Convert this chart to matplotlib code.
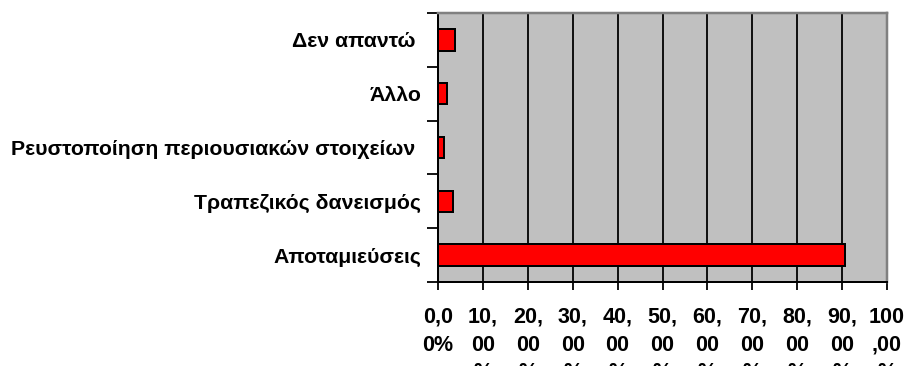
import matplotlib
matplotlib.use("Agg")
import matplotlib.pyplot as plt

# Sources of funding, share of responses (%)
categories = [
    "Αποταμιεύσεις",
    "Τραπεζικός δανεισμός",
    "Ρευστοποίηση περιουσιακών στοιχείων ",
    "Άλλο",
    "Δεν απαντώ ",
]
shares = [90.6, 3.4, 1.4, 1.9, 3.7]

x_ticks = [0, 10, 20, 30, 40, 50, 60, 70, 80, 90, 100]
x_tick_labels = [
    "0,0\n0%",
    "10,\n00\n%",
    "20,\n00\n%",
    "30,\n00\n%",
    "40,\n00\n%",
    "50,\n00\n%",
    "60,\n00\n%",
    "70,\n00\n%",
    "80,\n00\n%",
    "90,\n00\n%",
    "100\n,00\n%",
]

plt.rcParams["font.family"] = ["Liberation Sans", "DejaVu Sans"]
plt.rcParams["font.weight"] = "bold"

fig = plt.figure(figsize=(9.08, 3.66), dpi=100)
ax = fig.add_axes([438 / 908, 84 / 366, 449 / 908, 269 / 366])
ax.set_facecolor("#C0C0C0")

px = 72 / 100  # one pixel in points
ypos = list(range(len(categories)))
ax.barh(ypos, shares, height=0.40, color="#FF0000", edgecolor="black",
        linewidth=2 * px, zorder=3)

ax.set_xlim(0, 100)
ax.set_ylim(-0.5, len(categories) - 0.5)

ax.set_xticks(x_ticks)
ax.set_xticklabels(x_tick_labels, fontsize=15.5, fontweight="bold",
                   linespacing=1.42, va="top")
ax.xaxis.grid(True, color="black", linewidth=1.8 * px, zorder=1)
ax.set_axisbelow(True)

# category ticks sit between the bars
ax.set_yticks([i - 0.5 for i in range(len(categories) + 1)])
ax.set_yticklabels([])
ax.set_yticks(ypos, minor=True)
ax.set_yticklabels(categories, minor=True, fontsize=15.3, fontweight="bold")
ax.tick_params(axis="y", which="minor", length=0, pad=12)
ax.tick_params(axis="y", which="major", length=8, width=1.8 * px,
               direction="out")
ax.tick_params(axis="x", length=6, width=1.8 * px, direction="out", pad=12)

for side in ("left", "bottom"):
    ax.spines[side].set_color("black")
    ax.spines[side].set_linewidth(2 * px)
for side in ("top", "right"):
    ax.spines[side].set_color("#808080")
    ax.spines[side].set_linewidth(2.5 * px)

fig.savefig("out.png", dpi=100)
